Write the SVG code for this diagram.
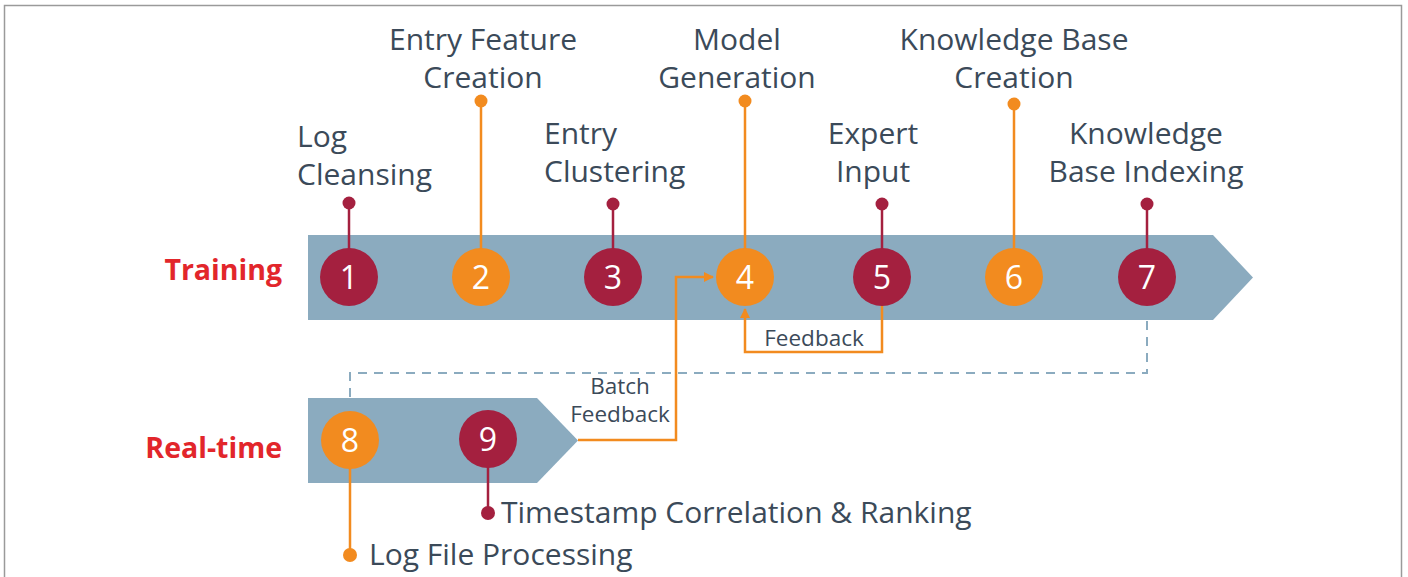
<svg xmlns="http://www.w3.org/2000/svg" width="1408" height="577" viewBox="0 0 1408 577">
  <defs>
    <style>
      .lbl { font-family: "Open Sans", "Noto Sans", sans-serif; font-size: 30px; fill: #3b4a59; }
      .small { font-family: "Open Sans", "Noto Sans", sans-serif; font-size: 22.5px; fill: #3b4a59; }
      .phase { font-family: "Open Sans", "Noto Sans", sans-serif; font-size: 28.5px; font-weight: bold; fill: #e2262b; }
      .num { font-family: "Open Sans", "Noto Sans", sans-serif; font-size: 32px; fill: #ffffff; text-anchor: middle; }
      .red { fill: #a4203f; }
      .org { fill: #f28b1f; }
      .stemR { stroke: #a4203f; stroke-width: 2.5; }
      .stemO { stroke: #f28b1f; stroke-width: 2.5; }
      .band { fill: #8babbf; }
      .flow { fill: none; stroke: #f28b1f; stroke-width: 2.5; }
      .dash { fill: none; stroke: #8babbf; stroke-width: 2; stroke-dasharray: 9 7; }
    </style>
    <marker id="tip" viewBox="0 0 10 10" refX="9" refY="5" markerWidth="4" markerHeight="4" orient="auto">
      <path d="M0,0 L10,5 L0,10 z" fill="#f28b1f"/>
    </marker>
  </defs>

  <!-- outer frame -->
  <rect x="4.5" y="5.5" width="1397" height="600" fill="#ffffff" stroke="#9a9a9a" stroke-width="1.5"/>

  <!-- phase bands -->
  <g id="training-band">
    <polygon class="band" points="308,235 1213,235 1253,277.5 1213,320 308,320"/>
    <text class="phase" x="282" y="280" text-anchor="end">Training</text>
  </g>
  <g id="realtime-band">
    <polygon class="band" points="308,398 537,398 578,440.5 537,483 308,483"/>
    <text class="phase" x="282" y="458" text-anchor="end">Real-time</text>
  </g>

  <!-- connectors -->
  <g id="connectors">
    <path class="dash" d="M1147,321 V373 H350 V398"/>
    <path class="flow" d="M578,440 H676 V277 H713" marker-end="url(#tip)"/>
    <path class="flow" d="M882,306 V352 H745 V309" marker-end="url(#tip)"/>
    <text class="small" x="620" y="394" text-anchor="middle">Batch</text>
    <text class="small" x="620" y="422" text-anchor="middle">Feedback</text>
    <text class="small" x="814" y="346" text-anchor="middle">Feedback</text>
  </g>

  <!-- training steps -->
  <g id="step1">
    <line class="stemR" x1="349" y1="203" x2="349" y2="260"/>
    <circle class="red" cx="349" cy="203" r="6.5"/>
    <circle class="red" cx="349" cy="277" r="29"/>
    <text class="num" x="349" y="289">1</text>
    <text class="lbl" x="297" y="147">Log</text>
    <text class="lbl" x="297" y="185">Cleansing</text>
  </g>
  <g id="step2">
    <line class="stemO" x1="481" y1="101" x2="481" y2="260"/>
    <circle class="org" cx="481" cy="101" r="6.5"/>
    <circle class="org" cx="481" cy="277" r="29"/>
    <text class="num" x="481" y="289">2</text>
    <text class="lbl" x="483" y="50" text-anchor="middle">Entry Feature</text>
    <text class="lbl" x="483" y="88" text-anchor="middle">Creation</text>
  </g>
  <g id="step3">
    <line class="stemR" x1="613" y1="204" x2="613" y2="260"/>
    <circle class="red" cx="613" cy="204" r="6.5"/>
    <circle class="red" cx="613" cy="277" r="29"/>
    <text class="num" x="613" y="289">3</text>
    <text class="lbl" x="544" y="144">Entry</text>
    <text class="lbl" x="544" y="182">Clustering</text>
  </g>
  <g id="step4">
    <line class="stemO" x1="745" y1="101" x2="745" y2="260"/>
    <circle class="org" cx="745" cy="101" r="6.5"/>
    <circle class="org" cx="745" cy="277" r="29"/>
    <text class="num" x="745" y="289">4</text>
    <text class="lbl" x="737" y="50" text-anchor="middle">Model</text>
    <text class="lbl" x="737" y="88" text-anchor="middle">Generation</text>
  </g>
  <g id="step5">
    <line class="stemR" x1="882" y1="204" x2="882" y2="260"/>
    <circle class="red" cx="882" cy="204" r="6.5"/>
    <circle class="red" cx="882" cy="277" r="29"/>
    <text class="num" x="882" y="289">5</text>
    <text class="lbl" x="873" y="144" text-anchor="middle">Expert</text>
    <text class="lbl" x="873" y="182" text-anchor="middle">Input</text>
  </g>
  <g id="step6">
    <line class="stemO" x1="1014" y1="104" x2="1014" y2="260"/>
    <circle class="org" cx="1014" cy="104" r="6.5"/>
    <circle class="org" cx="1014" cy="277" r="29"/>
    <text class="num" x="1014" y="289">6</text>
    <text class="lbl" x="1014" y="50" text-anchor="middle">Knowledge Base</text>
    <text class="lbl" x="1014" y="88" text-anchor="middle">Creation</text>
  </g>
  <g id="step7">
    <line class="stemR" x1="1147" y1="204" x2="1147" y2="260"/>
    <circle class="red" cx="1147" cy="204" r="6.5"/>
    <circle class="red" cx="1147" cy="277" r="29"/>
    <text class="num" x="1147" y="289">7</text>
    <text class="lbl" x="1146" y="144" text-anchor="middle">Knowledge</text>
    <text class="lbl" x="1146" y="182" text-anchor="middle">Base Indexing</text>
  </g>

  <!-- real-time steps -->
  <g id="step8">
    <line class="stemO" x1="350" y1="455" x2="350" y2="555"/>
    <circle class="org" cx="350" cy="555" r="7"/>
    <circle class="org" cx="350" cy="440" r="29"/>
    <text class="num" x="350" y="452">8</text>
    <text class="lbl" x="369" y="565">Log File Processing</text>
  </g>
  <g id="step9">
    <line class="stemR" x1="488" y1="455" x2="488" y2="513"/>
    <circle class="red" cx="488" cy="513" r="7"/>
    <circle class="red" cx="488" cy="439" r="29"/>
    <text class="num" x="488" y="451">9</text>
    <text class="lbl" x="501" y="523">Timestamp Correlation &amp; Ranking</text>
  </g>
</svg>
